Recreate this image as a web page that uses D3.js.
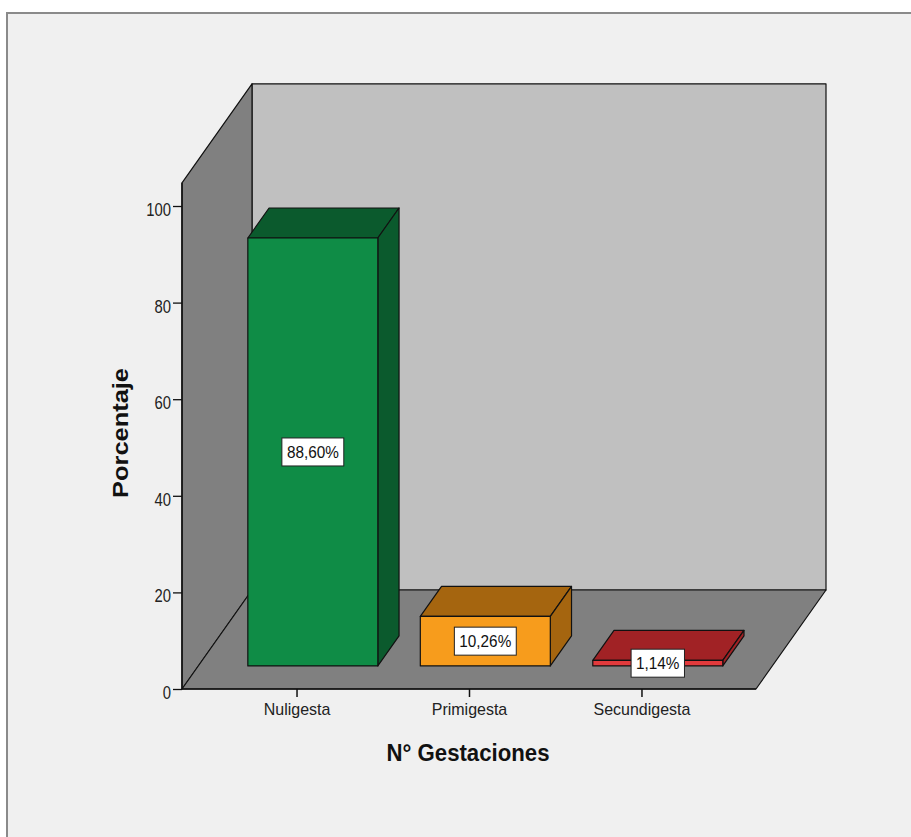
<!DOCTYPE html>
<html><head><meta charset="utf-8">
<script src="https://cdn.jsdelivr.net/npm/d3@7"></script>
<style>
html,body{margin:0;padding:0;background:#fff;}
svg{display:block;}
</style></head>
<body>
<script>
const categories = ["Nuligesta", "Primigesta", "Secundigesta"];
const values = [88.60, 10.26, 1.14];
const valueLabels = ["88,60%", "10,26%", "1,14%"];
const yTicks = [0, 20, 40, 60, 80, 100];
const frontColors = ["#0f8c46", "#f79c1c", "#e23a3c"];
const darkColors = ["#0b5a2d", "#a5650f", "#a12225"];

const W = 911, H = 837;
const FONT = "Liberation Sans, Arial, sans-serif";
const svg = d3.select("body").append("svg").attr("width", W).attr("height", H);

// frame
svg.append("rect").attr("x", 0).attr("y", 0).attr("width", W).attr("height", H).attr("fill", "#fff");
svg.append("rect").attr("x", 7).attr("y", 13).attr("width", W).attr("height", H).attr("fill", "#f0f0f0")
  .attr("stroke", "#8a8a8a").attr("stroke-width", 2);

const x0 = 182, x1 = 756, yBase = 689;
const y = d3.scaleLinear().domain([0, 100]).range([yBase, 206]);
const yTop = 104.8;
const x = d3.scalePoint().domain(categories).range([x0, x1]).padding(0.664);
const DX = 70, DY = -99; // full depth vector
const fFront = 0.233, fBack = 0.536;
const barW = 130;

const g = svg.append("g");
const poly = (pts, fill) => g.append("polygon")
  .attr("points", pts.map(p => p.join(",")).join(" "))
  .attr("fill", fill).attr("stroke", "#111").attr("stroke-width", 1.2).attr("stroke-linejoin", "round");

// back wall
poly([[x0 + DX, y(yTop) + DY], [x1 + DX, y(yTop) + DY], [x1 + DX, yBase + DY], [x0 + DX, yBase + DY]], "#c0c0c0");
// left wall
poly([[x0, y(yTop)], [x0 + DX, y(yTop) + DY], [x0 + DX, yBase + DY], [x0, yBase]], "#808080");
// floor
poly([[x0, yBase], [x0 + DX, yBase + DY], [x1 + DX, yBase + DY], [x1, yBase]], "#808080");

// bars
categories.forEach((c, i) => {
  const cx = x(c) + fFront * DX;
  const bx0 = cx - barW / 2, bx1 = cx + barW / 2;
  const by0 = y(0) + fFront * DY, by1 = y(values[i]) + fFront * DY;
  const ddx = (fBack - fFront) * DX, ddy = (fBack - fFront) * DY;
  poly([[bx0, by1], [bx0 + ddx, by1 + ddy], [bx1 + ddx, by1 + ddy], [bx1, by1]], darkColors[i]);
  poly([[bx1, by1], [bx1 + ddx, by1 + ddy], [bx1 + ddx, by0 + ddy], [bx1, by0]], darkColors[i]);
  poly([[bx0, by1], [bx1, by1], [bx1, by0], [bx0, by0]], frontColors[i]);
});

// condense helper
function condense(sel, factor) {
  sel.each(function () {
    const len = this.getComputedTextLength();
    d3.select(this).attr("textLength", len * factor).attr("lengthAdjust", "spacingAndGlyphs");
  });
}

// value labels
categories.forEach((c, i) => {
  const cx = x(c) + fFront * DX;
  const by0 = y(0) + fFront * DY, by1 = y(values[i]) + fFront * DY;
  const cy = (by0 + by1) / 2;
  const lg = svg.append("g");
  const t = lg.append("text").attr("x", cx).attr("y", cy + 6).attr("text-anchor", "middle")
    .attr("font-family", FONT).attr("font-size", 17).attr("fill", "#111").text(valueLabels[i]);
  condense(t, 0.9);
  const bb = t.node().getBBox();
  lg.insert("rect", "text").attr("x", cx - bb.width / 2 - 5).attr("y", cy - 14).attr("width", bb.width + 10).attr("height", 28)
    .attr("fill", "#fff").attr("stroke", "#222").attr("stroke-width", 1);
});

// axes
const yAxis = d3.axisLeft(y).tickValues(yTicks).tickSize(9).tickPadding(2);
const ya = svg.append("g").attr("transform", `translate(${x0},0)`).call(yAxis);
ya.select(".domain").remove();
ya.selectAll("text").attr("font-family", FONT).attr("font-size", 19).attr("fill", "#222").attr("dy", "0.5em");
condense(ya.selectAll("text"), 0.78);
ya.selectAll("line").attr("stroke", "#111").attr("stroke-width", 1.3);
svg.append("line").attr("x1", x0).attr("x2", x0).attr("y1", y(yTop)).attr("y2", yBase).attr("stroke", "#111").attr("stroke-width", 1.5);

const xAxis = d3.axisBottom(x).tickSize(8).tickPadding(8);
const xa = svg.append("g").attr("transform", `translate(0,${yBase})`).call(xAxis);
xa.select(".domain").remove();
xa.selectAll("text").attr("font-family", FONT).attr("font-size", 17).attr("fill", "#222").attr("dy", "0.6em");
condense(xa.selectAll("text"), 0.94);
xa.selectAll("line").attr("stroke", "#111").attr("stroke-width", 1.5);
svg.append("line").attr("x1", x0).attr("x2", x1).attr("y1", yBase).attr("y2", yBase).attr("stroke", "#111").attr("stroke-width", 1.5);

// axis titles
svg.append("text").attr("x", 468).attr("y", 761).attr("text-anchor", "middle")
  .attr("font-family", FONT).attr("font-weight", "bold").attr("font-size", 23)
  .attr("fill", "#111").attr("textLength", 163).attr("lengthAdjust", "spacingAndGlyphs").text("N° Gestaciones");
svg.append("text").attr("transform", "translate(128,433) rotate(-90)").attr("text-anchor", "middle")
  .attr("font-family", FONT).attr("font-weight", "bold").attr("font-size", 22)
  .attr("fill", "#111").attr("textLength", 130).attr("lengthAdjust", "spacingAndGlyphs").text("Porcentaje");
</script>
</body></html>
